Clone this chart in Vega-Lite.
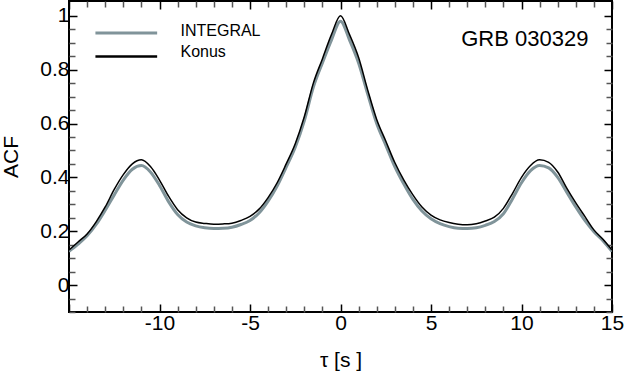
{
  "$schema": "https://vega.github.io/schema/vega-lite/v6.json",
  "width": 543,
  "height": 311,
  "autosize": "none",
  "padding": {"left": 69, "top": 1, "right": 12, "bottom": 60},
  "config": {
    "view": {"stroke": "black", "strokeWidth": 2},
    "font": "Liberation Sans",
    "axis": {"domain": false, "grid": false}
  },
  "datasets": {
    "acf": [
      {"t": -15, "acf": 0.125, "series": "INTEGRAL"}, {"t": -14.5, "acf": 0.152, "series": "INTEGRAL"}, {"t": -14, "acf": 0.183, "series": "INTEGRAL"}, {"t": -13.5, "acf": 0.225, "series": "INTEGRAL"}, {"t": -13, "acf": 0.278, "series": "INTEGRAL"}, {"t": -12.5, "acf": 0.335, "series": "INTEGRAL"}, {"t": -12, "acf": 0.39, "series": "INTEGRAL"}, {"t": -11.5, "acf": 0.43, "series": "INTEGRAL"}, {"t": -11, "acf": 0.444, "series": "INTEGRAL"}, {"t": -10.5, "acf": 0.42, "series": "INTEGRAL"}, {"t": -10, "acf": 0.37, "series": "INTEGRAL"}, {"t": -9.5, "acf": 0.31, "series": "INTEGRAL"}, {"t": -9, "acf": 0.262, "series": "INTEGRAL"}, {"t": -8.5, "acf": 0.234, "series": "INTEGRAL"}, {"t": -8, "acf": 0.22, "series": "INTEGRAL"}, {"t": -7.5, "acf": 0.213, "series": "INTEGRAL"}, {"t": -7, "acf": 0.21, "series": "INTEGRAL"}, {"t": -6.5, "acf": 0.211, "series": "INTEGRAL"}, {"t": -6, "acf": 0.215, "series": "INTEGRAL"}, {"t": -5.5, "acf": 0.225, "series": "INTEGRAL"}, {"t": -5, "acf": 0.24, "series": "INTEGRAL"}, {"t": -4.5, "acf": 0.268, "series": "INTEGRAL"}, {"t": -4, "acf": 0.312, "series": "INTEGRAL"}, {"t": -3.5, "acf": 0.368, "series": "INTEGRAL"}, {"t": -3, "acf": 0.438, "series": "INTEGRAL"}, {"t": -2.5, "acf": 0.512, "series": "INTEGRAL"}, {"t": -2, "acf": 0.61, "series": "INTEGRAL"}, {"t": -1.5, "acf": 0.735, "series": "INTEGRAL"}, {"t": -1, "acf": 0.825, "series": "INTEGRAL"}, {"t": -0.5, "acf": 0.91, "series": "INTEGRAL"}, {"t": 0, "acf": 0.98, "series": "INTEGRAL"},
      {"t": 0.5, "acf": 0.91, "series": "INTEGRAL"}, {"t": 1, "acf": 0.825, "series": "INTEGRAL"}, {"t": 1.5, "acf": 0.71, "series": "INTEGRAL"}, {"t": 2, "acf": 0.6, "series": "INTEGRAL"}, {"t": 2.5, "acf": 0.52, "series": "INTEGRAL"}, {"t": 3, "acf": 0.44, "series": "INTEGRAL"}, {"t": 3.5, "acf": 0.375, "series": "INTEGRAL"}, {"t": 4, "acf": 0.318, "series": "INTEGRAL"}, {"t": 4.5, "acf": 0.275, "series": "INTEGRAL"}, {"t": 5, "acf": 0.246, "series": "INTEGRAL"}, {"t": 5.5, "acf": 0.228, "series": "INTEGRAL"}, {"t": 6, "acf": 0.217, "series": "INTEGRAL"}, {"t": 6.5, "acf": 0.211, "series": "INTEGRAL"}, {"t": 7, "acf": 0.21, "series": "INTEGRAL"}, {"t": 7.5, "acf": 0.213, "series": "INTEGRAL"}, {"t": 8, "acf": 0.222, "series": "INTEGRAL"}, {"t": 8.5, "acf": 0.236, "series": "INTEGRAL"}, {"t": 9, "acf": 0.265, "series": "INTEGRAL"}, {"t": 9.5, "acf": 0.32, "series": "INTEGRAL"}, {"t": 10, "acf": 0.38, "series": "INTEGRAL"}, {"t": 10.5, "acf": 0.425, "series": "INTEGRAL"}, {"t": 11, "acf": 0.444, "series": "INTEGRAL"}, {"t": 11.5, "acf": 0.435, "series": "INTEGRAL"}, {"t": 12, "acf": 0.4, "series": "INTEGRAL"}, {"t": 12.5, "acf": 0.345, "series": "INTEGRAL"}, {"t": 13, "acf": 0.29, "series": "INTEGRAL"}, {"t": 13.5, "acf": 0.24, "series": "INTEGRAL"}, {"t": 14, "acf": 0.198, "series": "INTEGRAL"}, {"t": 14.5, "acf": 0.165, "series": "INTEGRAL"}, {"t": 15, "acf": 0.125, "series": "INTEGRAL"},
      {"t": -15, "acf": 0.13, "series": "Konus"}, {"t": -14.5, "acf": 0.16, "series": "Konus"}, {"t": -14, "acf": 0.19, "series": "Konus"}, {"t": -13.5, "acf": 0.235, "series": "Konus"}, {"t": -13, "acf": 0.29, "series": "Konus"}, {"t": -12.5, "acf": 0.355, "series": "Konus"}, {"t": -12, "acf": 0.41, "series": "Konus"}, {"t": -11.5, "acf": 0.45, "series": "Konus"}, {"t": -11, "acf": 0.465, "series": "Konus"}, {"t": -10.5, "acf": 0.44, "series": "Konus"}, {"t": -10, "acf": 0.39, "series": "Konus"}, {"t": -9.5, "acf": 0.33, "series": "Konus"}, {"t": -9, "acf": 0.28, "series": "Konus"}, {"t": -8.5, "acf": 0.25, "series": "Konus"}, {"t": -8, "acf": 0.234, "series": "Konus"}, {"t": -7.5, "acf": 0.229, "series": "Konus"}, {"t": -7, "acf": 0.226, "series": "Konus"}, {"t": -6.5, "acf": 0.227, "series": "Konus"}, {"t": -6, "acf": 0.23, "series": "Konus"}, {"t": -5.5, "acf": 0.24, "series": "Konus"}, {"t": -5, "acf": 0.255, "series": "Konus"}, {"t": -4.5, "acf": 0.282, "series": "Konus"}, {"t": -4, "acf": 0.325, "series": "Konus"}, {"t": -3.5, "acf": 0.38, "series": "Konus"}, {"t": -3, "acf": 0.45, "series": "Konus"}, {"t": -2.5, "acf": 0.525, "series": "Konus"}, {"t": -2, "acf": 0.625, "series": "Konus"}, {"t": -1.5, "acf": 0.75, "series": "Konus"}, {"t": -1, "acf": 0.84, "series": "Konus"}, {"t": -0.5, "acf": 0.93, "series": "Konus"}, {"t": 0, "acf": 1.0, "series": "Konus"},
      {"t": 0.5, "acf": 0.93, "series": "Konus"}, {"t": 1, "acf": 0.845, "series": "Konus"}, {"t": 1.5, "acf": 0.725, "series": "Konus"}, {"t": 2, "acf": 0.615, "series": "Konus"}, {"t": 2.5, "acf": 0.535, "series": "Konus"}, {"t": 3, "acf": 0.455, "series": "Konus"}, {"t": 3.5, "acf": 0.39, "series": "Konus"}, {"t": 4, "acf": 0.335, "series": "Konus"}, {"t": 4.5, "acf": 0.29, "series": "Konus"}, {"t": 5, "acf": 0.26, "series": "Konus"}, {"t": 5.5, "acf": 0.242, "series": "Konus"}, {"t": 6, "acf": 0.232, "series": "Konus"}, {"t": 6.5, "acf": 0.226, "series": "Konus"}, {"t": 7, "acf": 0.224, "series": "Konus"}, {"t": 7.5, "acf": 0.228, "series": "Konus"}, {"t": 8, "acf": 0.238, "series": "Konus"}, {"t": 8.5, "acf": 0.252, "series": "Konus"}, {"t": 9, "acf": 0.285, "series": "Konus"}, {"t": 9.5, "acf": 0.34, "series": "Konus"}, {"t": 10, "acf": 0.4, "series": "Konus"}, {"t": 10.5, "acf": 0.444, "series": "Konus"}, {"t": 11, "acf": 0.465, "series": "Konus"}, {"t": 11.5, "acf": 0.456, "series": "Konus"}, {"t": 12, "acf": 0.42, "series": "Konus"}, {"t": 12.5, "acf": 0.36, "series": "Konus"}, {"t": 13, "acf": 0.305, "series": "Konus"}, {"t": 13.5, "acf": 0.255, "series": "Konus"}, {"t": 14, "acf": 0.205, "series": "Konus"}, {"t": 14.5, "acf": 0.17, "series": "Konus"}, {"t": 15, "acf": 0.13, "series": "Konus"}
    ],
    "label": [{"name": "GRB 030329"}],
    "legend": [{"series": "INTEGRAL"}, {"series": "Konus"}]
  },
  "layer": [
    {
      "data": {"name": "acf"},
      "mark": {"type": "line", "interpolate": "monotone", "clip": true},
      "encoding": {
        "x": {
          "field": "t", "type": "quantitative",
          "scale": {"domain": [-15, 15], "nice": false, "zero": false},
          "axis": {
            "orient": "bottom", "title": "τ [s ]", "titleFontSize": 21, "titleFontWeight": "normal", "titlePadding": 16, "titleColor": "black",
            "values": [-15,-14,-13,-12,-11,-10,-9,-8,-7,-6,-5,-4,-3,-2,-1,0,1,2,3,4,5,6,7,8,9,10,11,12,13,14,15],
            "labelExpr": "datum.value % 5 === 0 && datum.value !== -15 ? toString(datum.value) : ''",
            "labelFontSize": 21, "labelColor": "black", "labelPadding": 8, "labelFlush": false,
            "tickSize": {"condition": {"test": "datum.value % 5 === 0", "value": -8}, "value": -6},
            "tickColor": {"condition": {"test": "datum.value % 5 === 0", "value": "black"}, "value": "#555555"},
            "tickWidth": 1.5
          }
        },
        "y": {
          "field": "acf", "type": "quantitative",
          "scale": {"domain": [-0.1, 1.055], "nice": false, "zero": false},
          "axis": {
            "orient": "left", "title": "ACF", "titleFontSize": 21, "titleFontWeight": "normal", "titlePadding": 18, "titleColor": "black",
            "values": [-0.1,-0.05,0,0.05,0.1,0.15,0.2,0.25,0.3,0.35,0.4,0.45,0.5,0.55,0.6,0.65,0.7,0.75,0.8,0.85,0.9,0.95,1.0],
            "labelExpr": "abs(datum.value*5 - round(datum.value*5)) < 0.001 && datum.value >= 0 ? format(datum.value, '') : ''",
            "labelFontSize": 21, "labelColor": "black", "labelPadding": 8, "labelFlush": false,
            "tickSize": {"condition": {"test": "abs(datum.value*5 - round(datum.value*5)) < 0.001", "value": -8}, "value": -6},
            "tickColor": {"condition": {"test": "abs(datum.value*5 - round(datum.value*5)) < 0.001", "value": "black"}, "value": "#555555"},
            "tickWidth": 1.5
          }
        },
        "color": {
          "field": "series", "type": "nominal",
          "scale": {"domain": ["INTEGRAL", "Konus"], "range": ["#80949a", "#000000"]},
          "legend": null
        },
        "strokeWidth": {"condition": {"test": "datum.series === 'INTEGRAL'", "value": 3}, "value": 1.5}
      }
    },
    {
      "data": {"name": "acf"},
      "mark": {"type": "point", "opacity": 0},
      "encoding": {
        "x": {
          "field": "t", "type": "quantitative",
          "axis": {
            "orient": "top", "title": null, "labels": false,
            "values": [-15,-14,-13,-12,-11,-10,-9,-8,-7,-6,-5,-4,-3,-2,-1,0,1,2,3,4,5,6,7,8,9,10,11,12,13,14,15],
            "tickSize": {"condition": {"test": "datum.value % 5 === 0", "value": -8}, "value": -6},
            "tickColor": {"condition": {"test": "datum.value % 5 === 0", "value": "black"}, "value": "#555555"},
            "tickWidth": 1.5
          }
        },
        "y": {
          "field": "acf", "type": "quantitative",
          "axis": {
            "orient": "right", "title": null, "labels": false,
            "values": [-0.1,-0.05,0,0.05,0.1,0.15,0.2,0.25,0.3,0.35,0.4,0.45,0.5,0.55,0.6,0.65,0.7,0.75,0.8,0.85,0.9,0.95,1.0],
            "tickSize": {"condition": {"test": "abs(datum.value*5 - round(datum.value*5)) < 0.001", "value": -8}, "value": -6},
            "tickColor": {"condition": {"test": "abs(datum.value*5 - round(datum.value*5)) < 0.001", "value": "black"}, "value": "#555555"},
            "tickWidth": 1.5
          }
        }
      }
    },
    {
      "data": {"name": "label"},
      "mark": {"type": "text", "fontSize": 22, "align": "center", "baseline": "middle", "color": "black"},
      "encoding": {
        "x": {"datum": 10.18, "type": "quantitative", "axis": null},
        "y": {"datum": 0.915, "type": "quantitative", "axis": null},
        "text": {"field": "name"}
      }
    },
    {
      "data": {"name": "legend"},
      "transform": [{"filter": "datum.series === 'INTEGRAL'"}],
      "layer": [
        {
          "mark": {"type": "rule", "strokeWidth": 3},
          "encoding": {
            "x": {"datum": -13.54, "type": "quantitative", "axis": null},
            "x2": {"datum": -10.13},
            "y": {"datum": 0.936, "type": "quantitative", "axis": null},
            "color": {"field": "series", "type": "nominal", "legend": null}
          }
        },
        {
          "mark": {"type": "text", "fontSize": 16, "align": "left", "baseline": "alphabetic", "color": "black"},
          "encoding": {
            "x": {"datum": -8.84, "type": "quantitative", "axis": null},
            "y": {"datum": 0.926, "type": "quantitative", "axis": null},
            "text": {"field": "series"}
          }
        }
      ]
    },
    {
      "data": {"name": "legend"},
      "transform": [{"filter": "datum.series === 'Konus'"}],
      "layer": [
        {
          "mark": {"type": "rule", "strokeWidth": 2.5},
          "encoding": {
            "x": {"datum": -13.54, "type": "quantitative", "axis": null},
            "x2": {"datum": -10.13},
            "y": {"datum": 0.849, "type": "quantitative", "axis": null},
            "color": {"field": "series", "type": "nominal", "legend": null}
          }
        },
        {
          "mark": {"type": "text", "fontSize": 16, "align": "left", "baseline": "alphabetic", "color": "black"},
          "encoding": {
            "x": {"datum": -8.84, "type": "quantitative", "axis": null},
            "y": {"datum": 0.846, "type": "quantitative", "axis": null},
            "text": {"field": "series"}
          }
        }
      ]
    }
  ],
  "resolve": {"axis": {"x": "independent", "y": "independent"}}
}
